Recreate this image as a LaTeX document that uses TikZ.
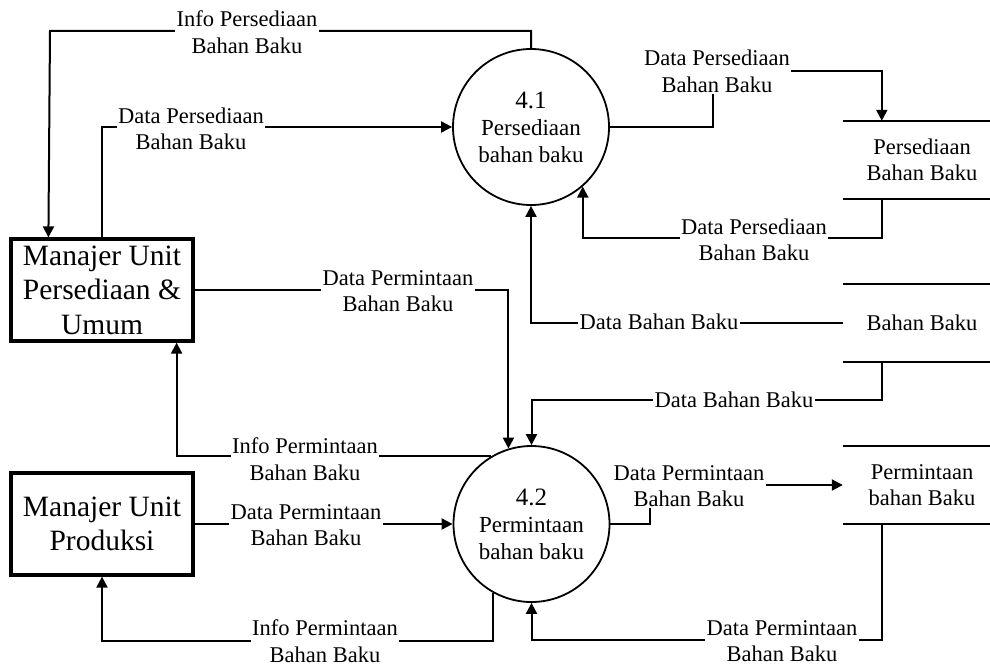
\documentclass[tikz,border=0pt]{standalone}
\usepackage{fontspec}
\setmainfont{Liberation Serif}
\usetikzlibrary{arrows.meta,positioning}
\tikzset{
  entity/.style={draw,line width=3.2pt,minimum width=182pt,minimum height=102pt,
    inner sep=0pt,align=center,font=\fontsize{29.5}{34.5}\selectfont},
  process/.style={draw,circle,line width=1.8pt,minimum size=156pt,inner sep=0pt,
    align=center,font=\fontsize{23}{27}\selectfont},
  store/.style={minimum width=158pt,minimum height=78pt,inner sep=0pt,
    align=center,font=\fontsize{22.5}{26.5}\selectfont},
  flow/.style={line width=2pt,-{Triangle[length=11pt,width=11pt]}},
  plain/.style={line width=2pt},
  lbl/.style={fill=white,inner sep=1.5pt,align=center,font=\fontsize{22.5}{26.5}\selectfont},
}
\begin{document}
\begin{tikzpicture}[x=1pt,y=-1pt]
%
\useasboundingbox (0,0) rectangle (990,669);
%
\node[entity] (e1) at (102,290) {Manajer Unit\\Persediaan \&\\Umum};
\node[entity] (e2) at (102,524) {Manajer Unit\\Produksi};
\node[process] (p41) at (531,127) {{\fontsize{25}{30}\selectfont 4.1}\\Persediaan\\bahan baku};
\node[process] (p42) at (531.5,524) {{\fontsize{25}{30}\selectfont 4.2}\\Permintaan\\bahan baku};
\node[store] (s1) at (922,160) {Persediaan\\Bahan Baku};
\node[store] (s2) at (922,323) {Bahan Baku};
\node[store] (s3) at (922,485) {Permintaan\\bahan Baku};
%
\foreach \s in {s1,s2,s3}{
  \draw[plain] (\s.north west) -- (\s.north east);
  \draw[plain] (\s.south west) -- (\s.south east);
}
%
\draw[flow] (p41.north) |- (50,31) -- ([xshift=39pt]e1.north west);
\draw[flow] (e1.north) |- (p41.west);
\draw[flow] (p41.east) -| (713,71) -| ([xshift=39pt]s1.north west);
\draw[flow] ([xshift=39pt]s1.south west) |- (p41.-49 |- 0,238) -- (p41.-49);
\draw[flow] (s2.west) -| (p41.south);
\draw[flow] (e1.east) -| (p42.107.5);
\draw[flow] ([xshift=39pt]s2.south west) -- ++(0,38) -| (p42.north);
\draw[flow] (p42.121.3) -| ([xshift=-18pt]e1.south east);
\draw[flow] (e2.east) -- (p42.west);
\draw[flow] (p42.east) -- ++(40,0) |- (s3.west);
\draw[flow] (p42.241.3) -- ++(0,48) -| (e2.south);
\draw[flow] ([xshift=39pt]s3.south west) -- ++(0,116) -| (p42.south);
%
\node[lbl] (l1) at (247,32) {Info Persediaan\\Bahan Baku};
\node[lbl] (l2) at (191,129) {Data Persediaan\\Bahan Baku};
\node[lbl] (l3) at (717,71.5) {Data Persediaan\\Bahan Baku};
\node[lbl] (l4) at (754,240) {Data Persediaan\\Bahan Baku};
\node[lbl] (l5) at (659,322) {Data Bahan Baku};
\node[lbl] (l6) at (398,291) {Data Permintaan\\Bahan Baku};
\node[lbl] (l7) at (734,400) {Data Bahan Baku};
\node[lbl] (l8) at (305,459) {Info Permintaan\\Bahan Baku};
\node[lbl] (l9) at (306,525) {Data Permintaan\\Bahan Baku};
\node[lbl] (l10) at (689,486) {Data Permintaan\\Bahan Baku};
\node[lbl] (l11) at (325,641) {Info Permintaan\\Bahan Baku};
\node[lbl] (l12) at (782,641) {Data Permintaan\\Bahan Baku};
%
\end{tikzpicture}
\end{document}
